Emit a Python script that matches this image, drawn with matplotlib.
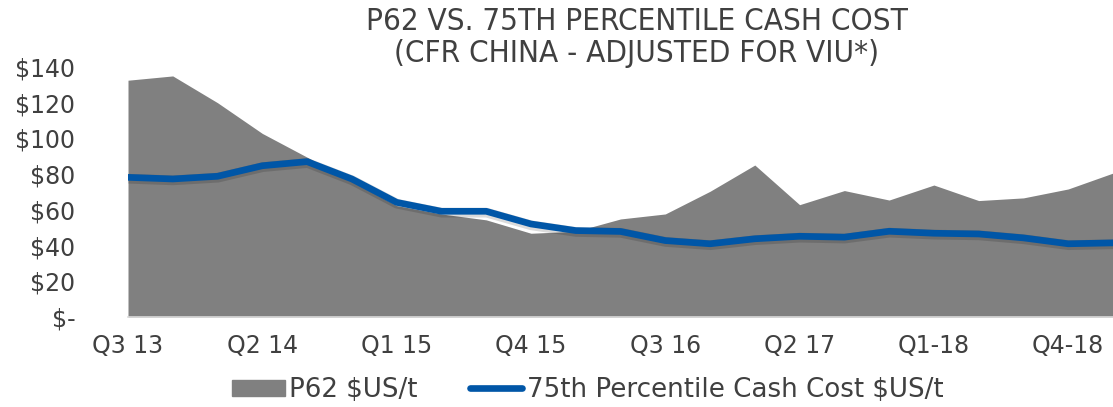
import matplotlib
matplotlib.use("Agg")
import matplotlib.pyplot as plt
import matplotlib.patheffects as pe
from matplotlib.patches import Patch
from matplotlib.lines import Line2D
import numpy as np

plt.rcParams['font.family'] = ['DejaVu Sans']

quarters = ['Q3 13', 'Q4 13', 'Q1 14', 'Q2 14', 'Q3 14', 'Q4 14', 'Q1 15', 'Q2 15',
            'Q3 15', 'Q4 15', 'Q1 16', 'Q2 16', 'Q3 16', 'Q4 16', 'Q1 17', 'Q2 17',
            'Q3 17', 'Q4 17', 'Q1-18', 'Q2-18', 'Q3-18', 'Q4-18', 'Q1-19']
p62 = [132.6, 135, 120, 102.8, 89.5, 76, 62.4, 57.7, 54.4, 46.9, 48, 54.9,
       57.7, 70.4, 85.1, 62.9, 70.8, 65.5, 73.9, 65.2, 66.7, 71.7, 80.6]
cash_cost = [78.2, 77.3, 78.8, 84.7, 87, 77.3, 64.2, 59.2, 59.2, 52.1, 48.4, 47.9,
             42.8, 41, 43.8, 45.2, 44.7, 48, 46.9, 46.5, 44.3, 41, 41.5]
yticks = [0, 20, 40, 60, 80, 100, 120, 140]
ylabels = ['$-', '$20', '$40', '$60', '$80', '$100', '$120', '$140']

grey = '#808080'
blue = '#0056A7'
txt = '#404040'

fig = plt.figure(figsize=(11.13, 4.07), dpi=100)
ax = fig.add_axes([128 / 1113, 90 / 407, 985 / 1113, 250 / 407])

x = np.arange(len(quarters))
ax.fill_between(x, 0, p62, color=grey, lw=0)
ax.plot(x, cash_cost, color=blue, lw=4.8, solid_capstyle='round', solid_joinstyle='round',
        path_effects=[pe.SimpleLineShadow(offset=(0.3, -1.0), shadow_color='k', alpha=0.14,
                                          linewidth=7),
                      pe.Normal()])

ax.set_xlim(0, len(quarters) - 1)
ax.set_ylim(0, 140)
ax.set_yticks(yticks)
ax.set_yticklabels(ylabels)
ax.set_xticks(x[::3])
ax.set_xticklabels(quarters[::3])
ax.tick_params(axis='both', length=0, labelsize=17, colors=txt)
ax.tick_params(axis='y', pad=38)
ax.tick_params(axis='x', pad=12)
for s in ['top', 'right', 'left']:
    ax.spines[s].set_visible(False)
ax.spines['bottom'].set_color('#d9d9d9')
ax.spines['bottom'].set_linewidth(1.2)

fig.text(637 / 1113, 1 - 22 / 407, 'P62 VS. 75TH PERCENTILE CASH COST',
         ha='center', va='center', fontsize=22.5, color=txt, fontstretch='condensed')
fig.text(637 / 1113, 1 - 53 / 407, '(CFR CHINA - ADJUSTED FOR VIU*)',
         ha='center', va='center', fontsize=22.5, color=txt, fontstretch='condensed')

handles = [Patch(color=grey, label='P62 $US/t'),
           Line2D([], [], color=blue, lw=4.8, solid_capstyle='round', label='75th Percentile Cash Cost $US/t')]
leg = fig.legend(handles=handles, loc='center', bbox_to_anchor=(588 / 1113, 1 - 390 / 407),
                 ncol=2, frameon=False, fontsize=18.8, handlelength=2.0, handleheight=0.55,
                 handletextpad=0.18, columnspacing=2.0, labelcolor=txt)

fig.savefig('out.png', dpi=100)
